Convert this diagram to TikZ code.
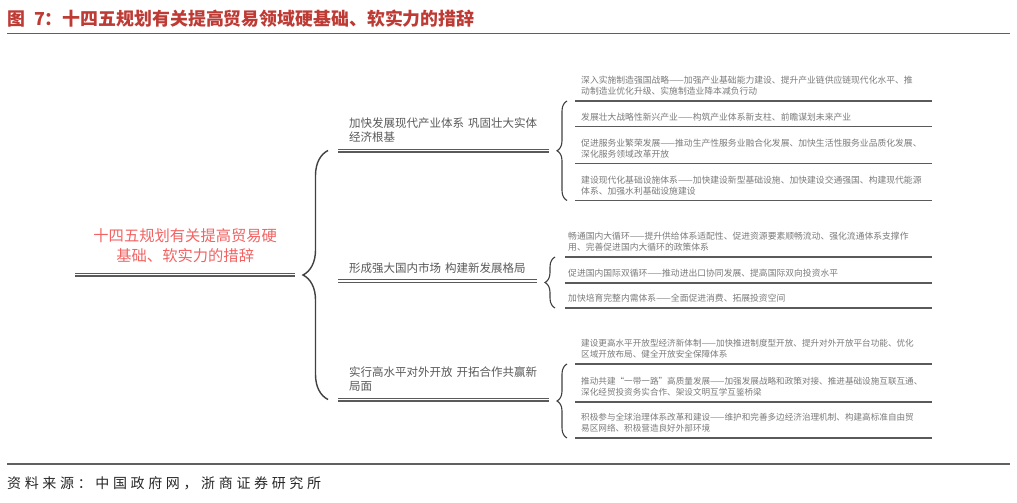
\documentclass[tikz,border=0pt]{standalone}
\usepackage{fontspec}
\setmainfont{Noto Sans CJK SC}
\usepackage{tikz}
\usetikzlibrary{decorations.pathreplacing}
\definecolor{titlered}{HTML}{BE3A34}
\definecolor{mainred}{HTML}{F26262}
\definecolor{midgray}{HTML}{595959}
\definecolor{leafgray}{HTML}{7A7A7A}
\definecolor{linegray}{HTML}{5A5A5A}
\definecolor{bracegray}{HTML}{404040}
\definecolor{rulegray}{HTML}{606060}

\begin{document}
\begin{tikzpicture}[
    x=1pt, y=-1pt,
    headline/.style={anchor=west, inner sep=0pt, text=titlered, font=\fontsize{17.9}{19}\selectfont\bfseries},
    note/.style={anchor=west, inner sep=0pt, text=black!85, font=\fontsize{14}{16}\selectfont\addfontfeature{LetterSpace=26}},
    root/.style={anchor=south west, text width=220pt, inner xsep=0pt, inner ysep=12pt, align=center, text=mainred, font=\fontsize{15.3}{20}\selectfont},
    branch/.style={anchor=south west, text width=189pt, inner xsep=11pt, inner ysep=7.5pt, align=left, text=midgray, font=\fontsize{11.5}{14.5}\selectfont},
    leaf/.style={anchor=south west, text width=345pt, inner xsep=6pt, inner ysep=5.5pt, align=left, text=leafgray, font=\fontsize{8.8}{10.6}\selectfont},
    narrowleaf/.style={leaf, font=\fontsize{8.6}{10.6}\selectfont},
    dline/.style={draw=linegray, line width=1.1pt, double, double distance=1.8pt},
    uline/.style={draw=linegray, line width=1.3pt},
    rule/.style={draw=rulegray, line width=1.2pt},
    bigbrace/.style={decorate, decoration={brace, amplitude=25pt}, draw=bracegray, line width=1.4pt},
    smallbrace/.style={decorate, decoration={brace, amplitude=10pt}, draw=bracegray, line width=1.1pt}
]
\useasboundingbox (0,0) rectangle (1017,503);

% Title and source
\node[headline] (title) at (7,18.5) {图\hspace{9pt}7：十四五规划有关提高贸易领域硬基础、软实力的措辞};
\coordinate (rt1) at (7,33.5);
\coordinate (rt2) at (1010,33.5);
\coordinate (rb1) at (7,464);
\coordinate (rb2) at (1010,464);
\node[note] (src) at (7,483.5) {资料来源：中国政府网，浙商证券研究所};

% Nodes
\node[root] (plan) at (75,274.5) {十四五规划有关提高贸易硬\\基础、软实力的措辞};

\node[branch] (ind) at (338,150.5) {加快发展现代产业体系~巩固壮大实体\\经济根基};
\node[branch, text width=177pt] (mkt) at (338,281) {形成强大国内市场~构建新发展格局};
\node[branch] (open) at (338,399.5) {实行高水平对外开放~开拓合作共赢新\\局面};

\node[leaf] (ind1) at (575,101) {深入实施制造强国战略——加强产业基础能力建设、提升产业链供应链现代化水平、推\\动制造业优化升级、实施制造业降本减负行动};
\node[leaf] (ind2) at (575,126.5) {发展壮大战略性新兴产业——构筑产业体系新支柱、前瞻谋划未来产业};
\node[leaf] (ind3) at (575,163.5) {促进服务业繁荣发展——推动生产性服务业融合化发展、加快生活性服务业品质化发展、\\深化服务领域改革开放};
\node[leaf] (ind4) at (575,200.5) {建设现代化基础设施体系——加快建设新型基础设施、加快建设交通强国、构建现代能源\\体系、加强水利基础设施建设};

\node[leaf, inner xsep=3pt, text width=361pt] (mkt1) at (565,257) {畅通国内大循环——提升供给体系适配性、促进资源要素顺畅流动、强化流通体系支撑作\\用、完善促进国内大循环的政策体系};
\node[leaf, inner xsep=3pt, text width=361pt] (mkt2) at (565,283) {促进国内国际双循环——推动进出口协同发展、提高国际双向投资水平};
\node[leaf, inner xsep=3pt, text width=361pt] (mkt3) at (565,308) {加快培育完整内需体系——全面促进消费、拓展投资空间};

\node[narrowleaf] (open1) at (575,364) {建设更高水平开放型经济新体制——加快推进制度型开放、提升对外开放平台功能、优化\\区域开放布局、健全开放安全保障体系};
\node[narrowleaf] (open2) at (575,402) {推动共建“一带一路”高质量发展——加强发展战略和政策对接、推进基础设施互联互通、\\深化经贸投资务实合作、架设文明互学互鉴桥梁};
\node[narrowleaf] (open3) at (575,438) {积极参与全球治理体系改革和建设——维护和完善多边经济治理机制、构建高标准自由贸\\易区网络、积极营造良好外部环境};

% Rules
\draw[rule] (rt1) -- (rt2);
\draw[rule] (rb1) -- (rb2);

% Underlines
\draw[dline] (plan.south west) -- (plan.south east);
\draw[dline] (ind.south west) -- (ind.south east);
\draw[dline] (mkt.south west) -- (mkt.south east);
\draw[dline] (open.south west) -- (open.south east);

\draw[uline] (ind1.south west) -- (ind1.south east);
\draw[uline] (ind2.south west) -- (ind2.south east);
\draw[uline] (ind3.south west) -- (ind3.south east);
\draw[uline] (ind4.south west) -- (ind4.south east);
\draw[uline] (mkt1.south west) -- (mkt1.south east);
\draw[uline] (mkt2.south west) -- (mkt2.south east);
\draw[uline] (mkt3.south west) -- (mkt3.south east);
\draw[uline] (open1.south west) -- (open1.south east);
\draw[uline] (open2.south west) -- (open2.south east);
\draw[uline] (open3.south west) -- (open3.south east);

% Braces
\draw[bigbrace] ([xshift=-10pt]open.south west) -- ([xshift=-10pt]ind.south west);
\draw[smallbrace] ([xshift=-8pt]ind4.south west) -- ([xshift=-8pt]ind1.south west);
\draw[smallbrace] ([xshift=-10pt]mkt3.south west) -- ([xshift=-10pt]mkt1.south west);
\draw[smallbrace] ([xshift=-8pt]open3.south west) -- ([xshift=-8pt]open1.south west);

\end{tikzpicture}
\end{document}
